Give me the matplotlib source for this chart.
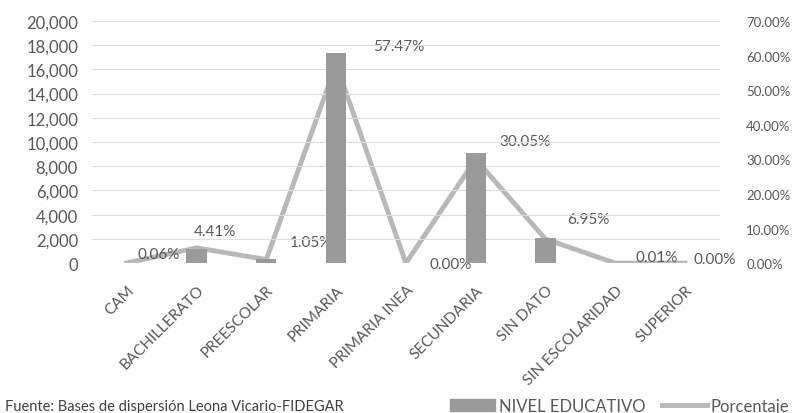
import matplotlib
matplotlib.use('Agg')
import matplotlib.pyplot as plt
from matplotlib.ticker import FuncFormatter
from matplotlib.patches import Patch
from matplotlib.lines import Line2D

plt.rcParams['font.family'] = ['Lato', 'DejaVu Sans']

# datos
niveles = ['CAM', 'BACHILLERATO', 'PREESCOLAR', 'PRIMARIA', 'PRIMARIA INEA',
           'SECUNDARIA', 'SIN DATO', 'SIN ESCOLARIDAD', 'SUPERIOR']
cantidad = [18, 1150, 317, 17350, 1, 9100, 2100, 3, 1]
porcentaje = [0.06, 4.41, 1.05, 57.47, 0.00, 30.05, 6.95, 0.01, 0.00]

# desplazamiento de las etiquetas respecto al punto (pixeles)
off_x = [32, 18, 45, 63, 45, 49, 43, 41, 30]
off_y = [9, 17, 17, 18, -1, 18, 20, 6, 4]

gris_barra = '#9a9a9a'
gris_linea = '#b8b8b8'
gris_txt = '#595959'

fig = plt.figure(figsize=(7.99, 4.14), dpi=100)
ax = fig.add_axes([0.115, 0.362, 0.786, 0.585])
ax2 = ax.twinx()

x = list(range(len(niveles)))
ax.bar(x, cantidad, width=0.29, color=gris_barra, zorder=3)
ax2.plot(x, porcentaje, color=gris_linea, lw=3.5, solid_joinstyle='miter')

# barras encima de la linea
ax.set_zorder(ax2.get_zorder() + 1)
ax.patch.set_visible(False)

ax.set_xlim(-0.5, len(niveles) - 0.5)
ax.set_ylim(0, 20000)
ax2.set_ylim(0, 70)
ax.set_yticks(range(0, 20001, 2000))
ax2.set_yticks(range(0, 71, 10))
ax.yaxis.set_major_formatter(FuncFormatter(lambda v, p: '{:,.0f}'.format(v)))
ax2.yaxis.set_major_formatter(FuncFormatter(lambda v, p: '%.2f%%' % v))
ax.grid(axis='y', color='#dedede', lw=0.8, zorder=0)

for a in (ax, ax2):
    for s in a.spines.values():
        s.set_visible(False)
    a.tick_params(length=0, colors=gris_txt)
ax.tick_params(axis='y', pad=10, labelsize=12)
ax2.tick_params(axis='y', pad=19, labelsize=9.5)

ax.set_xticks(x)
ax.set_xticklabels(niveles, rotation=45, ha='right', rotation_mode='anchor',
                   fontsize=11, color=gris_txt)
ax.tick_params(axis='x', pad=14)

for i, p in enumerate(porcentaje):
    ax2.annotate('%.2f%%' % p, (i, p), xytext=(off_x[i], off_y[i]),
                 textcoords='offset pixels', ha='center', va='center',
                 fontsize=11, color=gris_txt, zorder=5)

fig.text(0.006, 0.017, 'Fuente: Bases de dispersión Leona Vicario-FIDEGAR',
         fontsize=10.5, color='#404040', va='center')

handles = [Patch(color=gris_barra), Line2D([], [], color=gris_linea, lw=3.5)]
fig.legend(handles, ['NIVEL EDUCATIVO', 'Porcentaje'], loc='center left',
           bbox_to_anchor=(0.545, 0.017), ncol=2, frameon=False, fontsize=12,
           labelcolor=gris_txt, handlelength=2.7, handletextpad=0.2,
           columnspacing=1.0)

fig.savefig('out.png', dpi=100)
